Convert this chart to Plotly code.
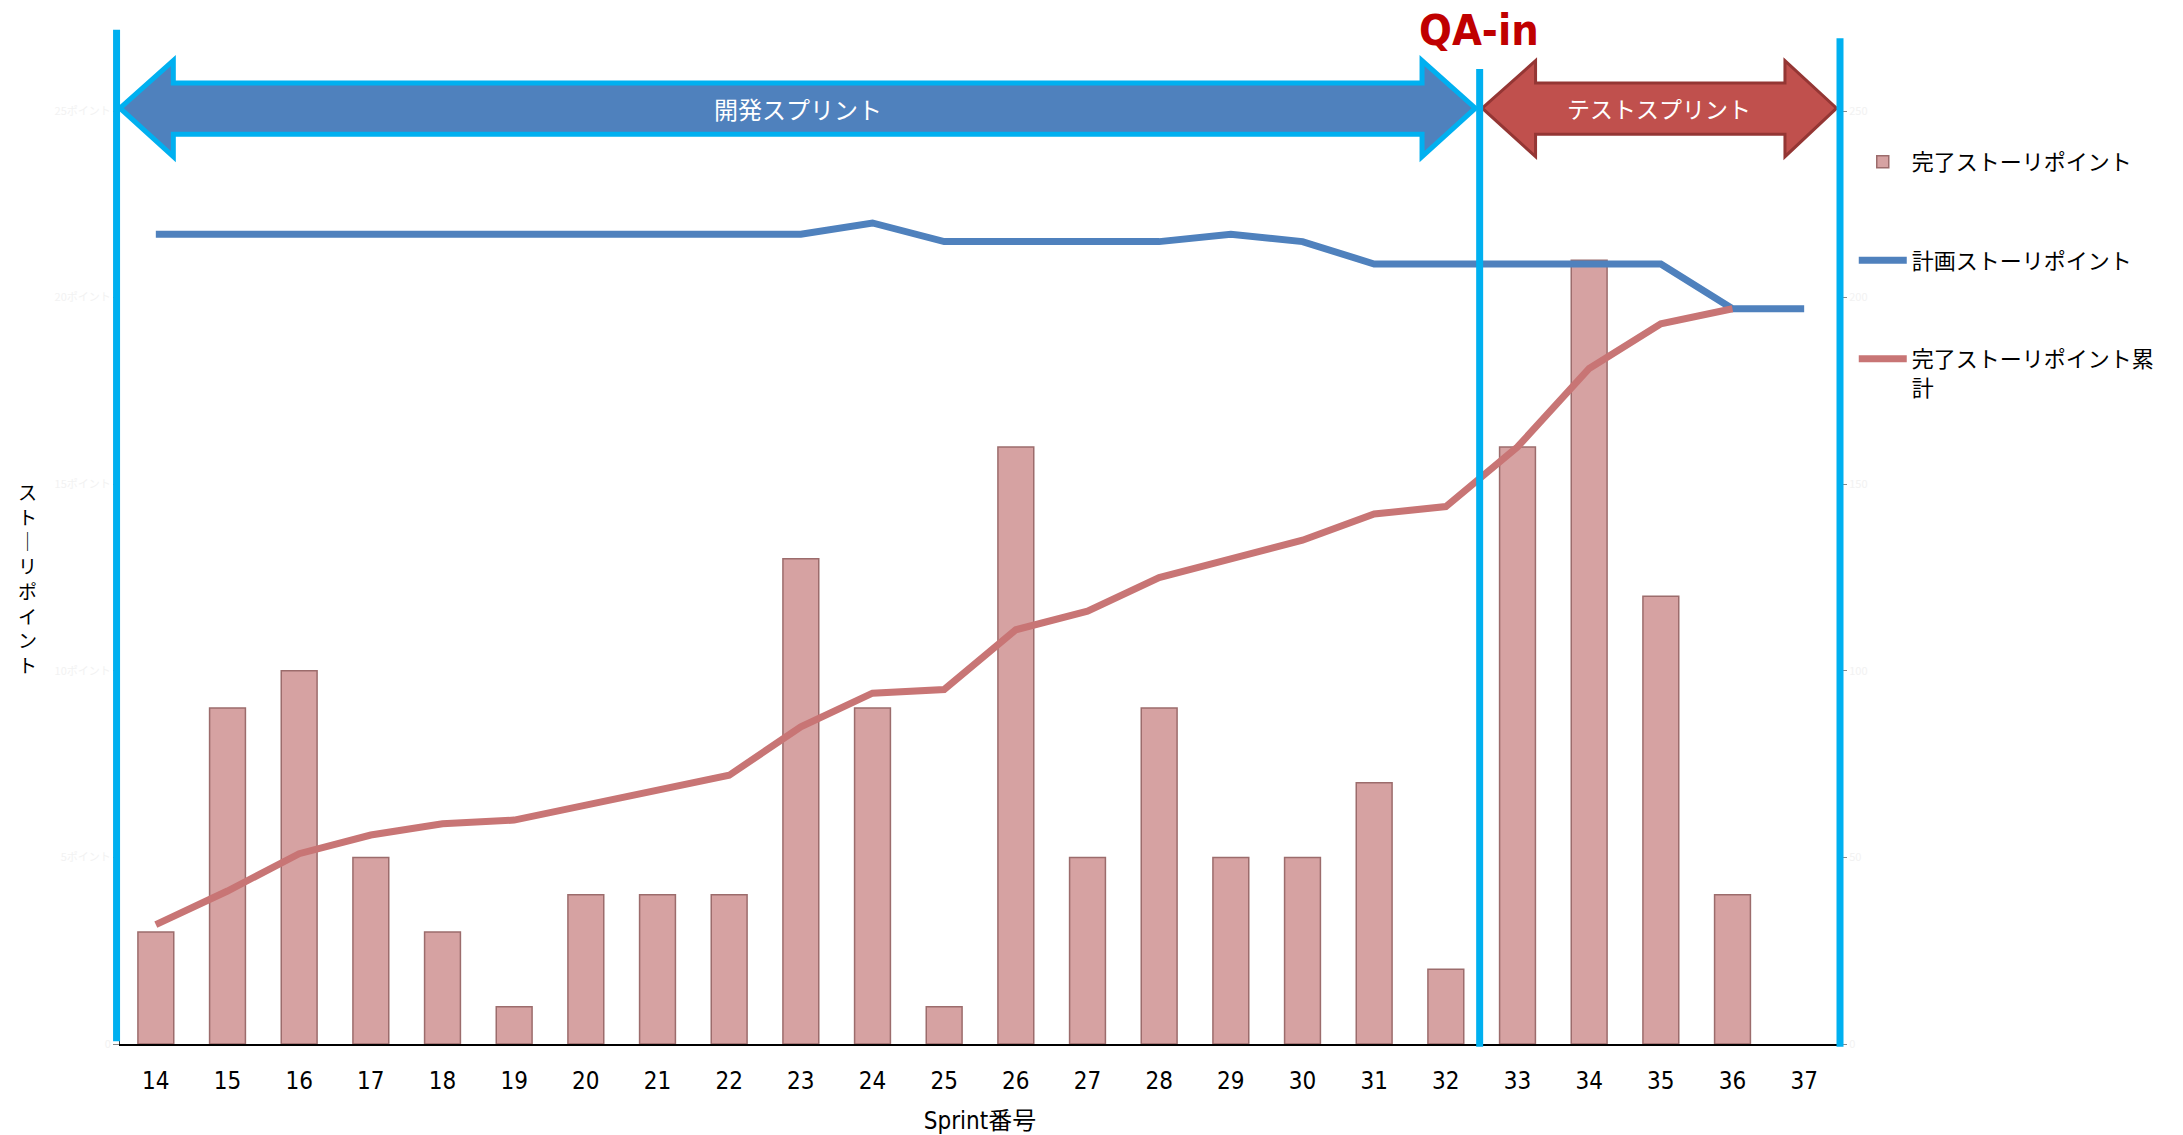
import plotly.graph_objects as go

sprints = list(range(14, 38))
done_points = [3, 9, 10, 5, 3, 1, 4, 4, 4, 13, 9, 1, 16, 5, 9, 5, 5, 7, 2, 16, 21, 12, 4, None]
planned_points = [217, 217, 217, 217, 217, 217, 217, 217, 217, 217, 220, 215, 215, 215, 215, 217, 215, 209, 209, 209, 209, 209, 197, 197]
cumulative_points = [32, 41, 51, 56, 59, 60, 64, 68, 72, 85, 94, 95, 111, 116, 125, 130, 135, 142, 144, 160, 181, 193, 197, None]

left_ticks = [0, 5, 10, 15, 20, 25]
left_labels = ["0", "5ポイント", "10ポイント", "15ポイント", "20ポイント", "25ポイント"]
right_ticks = [0, 50, 100, 150, 200, 250]

JP = "Noto Sans CJK JP, Noto Sans, sans-serif"
NARROW = "Liberation Sans Narrow, DejaVu Sans Condensed, Noto Sans CJK JP, sans-serif"

fig = go.Figure()
fig.add_trace(go.Bar(
    x=sprints, y=done_points, name="完了ストーリポイント",
    marker=dict(color="#d6a2a2", line=dict(color="#9c6c6c", width=1.5)),
    legendgroup="a", legendrank=1, yaxis="y",
))
fig.add_trace(go.Scatter(
    x=sprints, y=planned_points, name="計画ストーリポイント", mode="lines",
    line=dict(color="#4f81bd", width=7), yaxis="y2",
    legendgroup="b", legendrank=2,
))
fig.add_trace(go.Scatter(
    x=sprints, y=cumulative_points, name="完了ストーリポイント累<br>計", mode="lines",
    line=dict(color="#c87575", width=7), yaxis="y2",
    legendgroup="c", legendrank=3,
))

def arrow(x0, x1, x2, x3, yc, ybt, ybb, yht, yhb):
    return (f"M {x0},{yc} L {x1},{yht} L {x1},{ybt} L {x2},{ybt} L {x2},{yht} "
            f"L {x3},{yc} L {x2},{yhb} L {x2},{ybb} L {x1},{ybb} L {x1},{yhb} Z")

yc, ybt, ybb, yht, yhb = 1.003, 1.030, 0.975, 1.054, 0.951
shapes = [
    dict(type="path", xref="paper", yref="paper", layer="below",
         path=arrow(0.0, 0.031, 0.757, 0.788, yc, ybt, ybb, yht, yhb),
         fillcolor="#4f81bd", line=dict(color="#00b0f0", width=5)),
    dict(type="path", xref="paper", yref="paper", layer="below",
         path=arrow(0.792, 0.823, 0.968, 0.998, yc, ybt, ybb, yht, yhb),
         fillcolor="#c0504d", line=dict(color="#943634", width=3)),
    dict(type="line", xref="paper", yref="paper", x0=-0.002, x1=-0.002, y0=0.003, y1=1.087,
         line=dict(color="#00b0f0", width=7)),
    dict(type="line", xref="paper", yref="paper", x0=0.7905, x1=0.7905, y0=-0.003, y1=1.045,
         line=dict(color="#00b0f0", width=7)),
    dict(type="line", xref="paper", yref="paper", x0=1.0, x1=1.0, y0=-0.003, y1=1.078,
         line=dict(color="#00b0f0", width=7)),
]

annotations = [
    dict(text="開発スプリント", xref="paper", yref="paper", x=0.394, y=yc,
         xanchor="center", yanchor="middle",
         showarrow=False, font=dict(family=JP, size=24, color="white")),
    dict(text="テストスプリント", xref="paper", yref="paper", x=0.895, y=yc,
         xanchor="center", yanchor="middle",
         showarrow=False, font=dict(family=JP, size=23, color="white")),
    dict(text="<b>QA-in</b>", xref="paper", yref="paper", x=0.79, y=1.087,
         xanchor="center", yanchor="middle",
         showarrow=False, font=dict(family="DejaVu Sans Condensed, Liberation Sans Narrow, sans-serif",
                                    size=43, color="#c00000")),
    dict(text="<br>".join(["ス", "ト", "｜", "リ", "ポ", "イ", "ン", "ト"]),
         xref="paper", yref="paper", x=-0.0535, y=0.5, xanchor="center", yanchor="middle",
         showarrow=False,
         font=dict(family=JP, size=19, color="black"), align="center"),
]

fig.update_layout(
    width=2183, height=1135,
    margin=dict(l=120, r=343, t=111, b=91),
    paper_bgcolor="white", plot_bgcolor="white",
    barmode="overlay", bargap=0.5,
    shapes=shapes, annotations=annotations,
    showlegend=True,
    legend=dict(x=1.008, y=0.968, xanchor="left", yanchor="top",
                font=dict(family=JP, size=22, color="black"),
                tracegroupgap=67, valign="top", bgcolor="rgba(0,0,0,0)",
                itemwidth=48),
    xaxis=dict(range=[13.5, 37.5], tickmode="array", tickvals=sprints,
               ticktext=[str(s) for s in sprints], showgrid=False, zeroline=False,
               showline=True, linecolor="black", linewidth=1.5, ticks="",
               tickfont=dict(family=NARROW, size=24, color="black"),
               ticklabelstandoff=14, automargin=False,
               title=dict(text="Sprint番号", font=dict(family=NARROW, size=24, color="black"),
                          standoff=20)),
    yaxis=dict(range=[0, 25], tickmode="array", tickvals=left_ticks, ticktext=left_labels,
               showgrid=False, zeroline=False, showline=True, linecolor="#333333",
               ticks="outside", ticklen=6, tickcolor="#888888", automargin=False,
               tickfont=dict(family=JP, size=11, color="#f2f2f2")),
    yaxis2=dict(range=[0, 250], overlaying="y", side="right", tickmode="array",
                tickvals=right_ticks, showgrid=False, zeroline=False, showline=False,
                ticks="outside", ticklen=6, tickcolor="#888888", automargin=False,
                tickfont=dict(family=JP, size=11, color="#f2f2f2")),
)

fig.write_html("out.html")
